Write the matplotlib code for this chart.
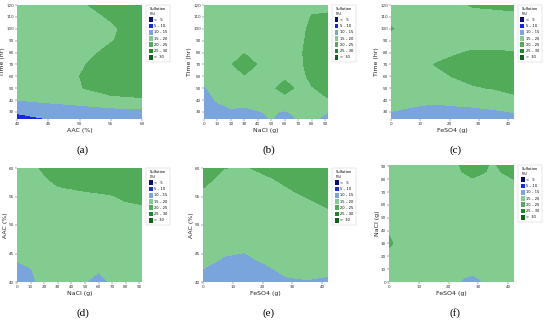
import numpy as np
import matplotlib
matplotlib.use("Agg")
import matplotlib.pyplot as plt
from matplotlib.patches import Patch

# contour bands + colours
levels = [-100, 5, 10, 15, 20, 25, 30, 100]
band_labels = ["<   5", "5 – 10", "10 – 15", "15 – 20", "20 – 25", "25 – 30", ">  30"]
band_colors = ["#0a0a78", "#1428e6", "#7aa4dc", "#82cc90", "#52ab58", "#16892a", "#0b6418"]

# (a) AAC (%) vs Time (hr)
a_x = [40, 45, 50, 55, 60]
a_y = [24, 30, 40, 50, 60, 70, 80, 90, 100, 110, 120]
a_z = [
    [8.5, 10.0, 11.0, 12.0, 13.0],
    [10.5, 11.8, 12.5, 13.0, 13.3],
    [15.05, 16.0, 17.0, 19.0, 19.5],
    [16.5, 17.5, 19.8, 21.5, 22.0],
    [17.0, 18.0, 20.0, 22.0, 22.5],
    [17.0, 18.0, 19.6, 21.5, 22.5],
    [17.0, 17.8, 18.8, 20.8, 22.0],
    [17.0, 17.8, 18.5, 19.8, 21.5],
    [17.0, 17.8, 18.5, 19.7, 21.0],
    [17.0, 18.0, 19.2, 20.2, 21.0],
    [17.5, 18.8, 19.7, 20.8, 21.5],
]

# (b) NaCl (g) vs Time (hr)
b_x = [0, 10, 20, 30, 40, 50, 60, 70, 80, 92]
b_y = [24, 30, 40, 50, 60, 70, 80, 90, 100, 110, 120]
b_z = [
    [12.0, 12.5, 13.0, 13.5, 14.3, 15.1, 13.5, 15.2, 16.0, 13.5],
    [12.5, 13.5, 14.5, 14.3, 14.8, 15.5, 14.6, 16.0, 16.5, 15.0],
    [13.5, 15.4, 16.3, 16.0, 16.8, 17.5, 19.0, 17.5, 17.5, 19.8],
    [14.5, 17.0, 17.5, 17.5, 17.5, 19.5, 21.0, 19.5, 19.8, 21.0],
    [16.2, 17.5, 18.5, 19.8, 18.5, 17.5, 19.5, 18.5, 21.0, 22.0],
    [17.5, 18.0, 19.85, 21.5, 19.85, 17.5, 17.5, 18.8, 22.0, 22.0],
    [17.5, 17.5, 18.5, 19.85, 18.5, 17.5, 17.5, 19.0, 22.0, 22.0],
    [17.5, 17.5, 17.5, 17.5, 17.5, 17.5, 17.5, 18.7, 21.5, 22.0],
    [17.5, 17.5, 17.5, 17.5, 17.5, 17.5, 17.5, 18.5, 21.0, 21.5],
    [17.5, 17.5, 17.5, 17.5, 17.5, 17.5, 17.5, 18.0, 20.2, 20.5],
    [17.5, 17.5, 17.5, 17.5, 17.5, 17.5, 17.5, 17.5, 19.0, 19.0],
]

# (c) FeSO4 (g) vs Time (hr)
c_x = [0, 7, 14, 21, 28, 35, 42]
c_y = [24, 30, 40, 50, 60, 70, 80, 90, 100, 110, 120]
c_z = [
    [13.5, 13.3, 13.0, 13.0, 13.3, 13.6, 14.0],
    [14.95, 14.0, 14.0, 14.0, 14.2, 14.6, 15.1],
    [17.0, 16.5, 15.5, 15.9, 16.2, 16.6, 18.5],
    [17.5, 17.5, 17.5, 18.5, 19.5, 20.3, 21.5],
    [17.5, 17.5, 18.5, 20.1, 21.5, 22.0, 22.0],
    [17.5, 17.5, 19.95, 21.0, 22.0, 22.0, 21.5],
    [17.5, 17.5, 18.5, 19.5, 20.4, 20.4, 20.1],
    [18.5, 17.5, 17.5, 17.5, 18.5, 18.5, 18.5],
    [20.3, 18.0, 17.5, 17.5, 17.5, 17.5, 17.5],
    [18.5, 17.5, 17.5, 17.5, 18.0, 18.5, 19.2],
    [17.5, 17.5, 17.5, 18.5, 20.5, 20.8, 20.8],
]

# (d) NaCl (g) vs AAC (%)
d_x = [0, 10, 20, 30, 40, 50, 60, 70, 80, 92]
d_y = [40, 42, 44, 46, 48, 50, 52, 54, 56, 58, 60]
d_z = [
    [13.0, 14.0, 16.5, 17.5, 17.0, 15.1, 13.8, 15.5, 17.5, 17.5],
    [14.0, 14.7, 17.0, 17.5, 17.5, 16.0, 15.2, 16.3, 17.5, 17.5],
    [15.2, 16.0, 17.5, 17.5, 17.5, 17.5, 17.0, 17.5, 17.5, 17.5],
    [16.5, 17.0, 17.5, 17.5, 17.5, 17.5, 17.5, 17.5, 17.5, 17.5],
    [15.5, 17.5, 17.5, 17.5, 17.5, 17.5, 17.5, 17.5, 17.5, 17.5],
    [14.9, 17.5, 17.5, 17.5, 17.5, 17.5, 17.5, 17.5, 17.5, 17.5],
    [15.5, 17.5, 17.5, 17.5, 17.5, 17.5, 18.0, 18.3, 18.7, 19.3],
    [17.5, 17.5, 17.8, 18.3, 18.6, 19.0, 19.2, 19.5, 19.95, 20.2],
    [17.5, 18.0, 18.8, 19.5, 19.8, 20.05, 20.2, 20.3, 20.8, 21.0],
    [17.5, 18.6, 19.6, 20.8, 21.0, 21.0, 21.0, 21.0, 21.0, 21.0],
    [17.8, 19.2, 20.5, 21.0, 21.0, 21.0, 21.0, 21.0, 21.0, 21.0],
]

# (e) FeSO4 (g) vs AAC (%)
e_x = [0, 7, 14, 21, 28, 35, 42]
e_y = [40, 42, 44, 46, 48, 50, 52, 54, 56, 58, 60]
e_z = [
    [13.5, 13.0, 12.8, 13.5, 14.6, 14.8, 14.5],
    [14.8, 14.0, 13.8, 14.5, 15.5, 15.8, 15.5],
    [16.0, 14.8, 14.6, 15.4, 16.5, 17.0, 17.0],
    [17.0, 15.6, 15.3, 16.3, 17.2, 17.5, 17.5],
    [17.5, 16.5, 16.2, 17.0, 17.5, 17.5, 17.5],
    [18.0, 17.5, 17.5, 17.5, 17.5, 17.5, 17.8],
    [18.5, 17.8, 17.5, 17.5, 17.8, 18.3, 19.5],
    [19.0, 18.3, 17.8, 18.0, 18.6, 19.6, 20.6],
    [19.8, 18.8, 18.3, 18.8, 19.7, 20.6, 21.3],
    [20.6, 19.4, 18.9, 19.6, 20.5, 21.2, 21.5],
    [21.0, 20.05, 19.8, 20.6, 21.0, 21.5, 21.5],
]

# (f) FeSO4 (g) vs NaCl (g)
f_x = [0, 7, 14, 21, 24.5, 28, 31.5, 35, 38.5, 42]
f_y = [0, 3, 10, 20, 30, 40, 50, 60, 70, 80, 86, 91]
f_z = [
    [14.9, 16.5, 17.0, 16.0, 14.9, 14.0, 15.05, 16.0, 16.8, 17.0],
    [16.0, 17.0, 17.2, 16.5, 15.05, 14.5, 15.4, 16.5, 17.0, 17.2],
    [17.0, 17.5, 17.5, 17.0, 16.5, 16.0, 16.5, 17.0, 17.3, 17.5],
    [18.8, 17.5, 17.5, 17.5, 17.5, 17.5, 17.5, 17.5, 17.5, 17.5],
    [20.6, 17.5, 17.5, 17.5, 17.5, 17.5, 17.5, 17.5, 17.5, 17.5],
    [19.6, 17.5, 17.5, 17.5, 17.5, 17.5, 17.5, 17.5, 17.5, 17.5],
    [18.0, 17.5, 17.5, 17.5, 17.5, 17.5, 17.5, 17.5, 17.5, 17.5],
    [17.5, 17.5, 17.5, 17.5, 17.5, 17.5, 17.5, 17.5, 17.5, 17.5],
    [17.5, 17.5, 17.5, 17.8, 18.0, 18.5, 18.2, 18.0, 18.2, 18.6],
    [17.5, 17.5, 17.5, 18.5, 19.0, 19.85, 19.2, 18.5, 19.2, 20.05],
    [17.5, 17.5, 17.5, 18.8, 20.05, 20.9, 20.3, 19.3, 20.3, 21.0],
    [17.5, 17.5, 17.5, 19.0, 20.3, 21.2, 20.6, 19.6, 20.8, 21.5],
]

panels = [
    # x, y, z, xlabel, ylabel, xticks, yticks, caption, [left, bottom, w, h] in px
    (a_x, a_y, a_z, "AAC (%)", "Time (hr)", range(40, 61, 5), range(30, 121, 10), "(a)", [17, 119, 125, 114]),
    (b_x, b_y, b_z, "NaCl (g)", "Time (hr)", range(0, 91, 10), range(30, 121, 10), "(b)", [204, 119, 124, 114]),
    (c_x, c_y, c_z, "FeSO4 (g)", "Time (hr)", range(0, 41, 10), range(30, 121, 10), "(c)", [391, 119, 123, 114]),
    (d_x, d_y, d_z, "NaCl (g)", "AAC (%)", range(0, 91, 10), range(40, 61, 5), "(d)", [17, 282, 125, 114]),
    (e_x, e_y, e_z, "FeSO4 (g)", "AAC (%)", range(0, 41, 10), range(40, 61, 5), "(e)", [203, 282, 125, 114]),
    (f_x, f_y, f_z, "FeSO4 (g)", "NaCl (g)", range(0, 41, 10), range(0, 91, 10), "(f)", [389, 282, 125, 117]),
]

W, H = 550, 321
fig = plt.figure(figsize=(W / 100, H / 100), dpi=100)

handles = [Patch(facecolor=c, edgecolor="none", label=l) for c, l in zip(band_colors, band_labels)]

for x, y, z, xl, yl, xt, yt, cap, (l, b, w, h) in panels:
    ax = fig.add_axes([l / W, (H - b) / H, w / W, h / H])
    ax.contourf(x, y, np.array(z), levels=levels, colors=band_colors)
    ax.set_xlim(min(x), max(x))
    ax.set_ylim(min(y), max(y))
    ax.set_xticks(list(xt))
    ax.set_yticks(list(yt))
    ax.tick_params(labelsize=3, length=1.2, width=0.3, pad=1, colors="#333333")
    ax.set_xlabel(xl, fontsize=4.5, labelpad=1.5, color="#222222")
    ax.set_ylabel(yl, fontsize=4.5, labelpad=0.6, color="#222222")
    for s in ax.spines.values():
        s.set_visible(False)
    leg = ax.legend(handles=handles, title="Sulfation\n(%)", loc="upper left",
                    bbox_to_anchor=(1.035, 1.0), fontsize=2.6, title_fontsize=2.6,
                    handlelength=1.1, handleheight=1.6, handletextpad=0.5,
                    labelspacing=0.45, borderpad=0.6, borderaxespad=0,
                    frameon=True, fancybox=False)
    leg.get_frame().set_linewidth(0.3)
    leg.get_frame().set_edgecolor("#bbbbbb")
    for t in leg.get_texts():
        t.set_ha("right")
    fig.text((l + w / 2 + 3) / W, 1 - (b + 31) / H, cap, fontsize=8,
             family="Liberation Serif", ha="center", va="center")

fig.savefig("out.png", dpi=100)
